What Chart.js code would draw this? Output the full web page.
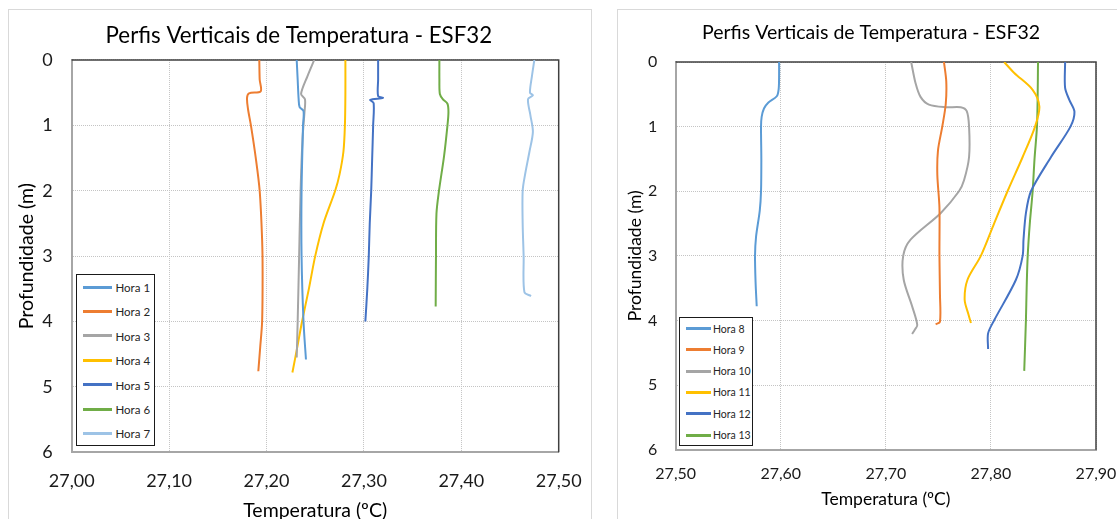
<!DOCTYPE html>
<html>
<head>
<meta charset="utf-8">
<script src="https://cdn.jsdelivr.net/npm/chart.js@4"></script>
<style>
  body { margin: 0; background: #fff; width: 1117px; height: 519px; overflow: hidden; position: relative; font-family: Lato, sans-serif; }
  .frame { position: absolute; border: 1px solid #d9d9d9; background: #fff; }
  .holder { position: absolute; }
  .legend { position: absolute; border: 1px solid #1a1a1a; background: #fff; }
  .legend .item { position: absolute; left: 0; right: 0; height: 0; }
  .legend .swatch { position: absolute; height: 3px; margin-top: -1.5px; }
  .legend .label { position: absolute; color: #262626; white-space: nowrap; transform: translateY(-50%); }
</style>
</head>
<body>
<div class="frame" style="left:8px;top:9px;width:582px;height:530px"></div>
<div class="frame" style="left:617px;top:9px;width:520px;height:530px"></div>
<div class="holder" style="left:9px;top:10px;width:580px;height:520px"><canvas id="left"></canvas></div>
<div class="holder" style="left:618px;top:10px;width:499px;height:520px"><canvas id="right"></canvas></div>
<div class="legend" id="legLeft" style="left:76px;top:274px;width:77px;height:170px"></div>
<div class="legend" id="legRight" style="left:679px;top:317px;width:72px;height:127px"></div>
<script>
// profundidade (m) e temperatura (ºC) de cada hora
const h1T = [27.231, 27.232, 27.233, 27.234, 27.238, 27.2375, 27.236, 27.236, 27.238, 27.2405];
const h1D = [0, 0.3, 0.6, 0.72, 0.78, 1.0, 2.0, 3.0, 4.0, 4.58];
const h2T = [27.1926, 27.193, 27.194, 27.182, 27.180, 27.181, 27.184, 27.189, 27.193, 27.1955, 27.196, 27.1955, 27.1935, 27.1916];
const h2D = [0, 0.3, 0.48, 0.51, 0.58, 0.75, 1.0, 1.5, 2.0, 2.75, 3.25, 4.0, 4.4, 4.76];
const h3T = [27.249, 27.242, 27.2355, 27.2395, 27.239, 27.237, 27.235, 27.2335, 27.232, 27.231];
const h3D = [0, 0.25, 0.52, 0.6, 0.8, 1.2, 2.0, 3.0, 4.0, 4.55];
const h4T = [27.281, 27.281, 27.2805, 27.279, 27.275, 27.2705, 27.2585, 27.25, 27.2435, 27.2365, 27.2315, 27.2266];
const h4D = [0, 0.5, 1.0, 1.4, 1.75, 2.0, 2.5, 3.0, 3.5, 4.0, 4.4, 4.78];
const h5T = [27.3146, 27.3146, 27.3146, 27.3195, 27.3065, 27.310, 27.3095, 27.3085, 27.3075, 27.306, 27.305, 27.3035, 27.3015];
const h5D = [0, 0.3, 0.55, 0.58, 0.61, 0.66, 1.0, 1.5, 2.0, 2.5, 3.0, 3.5, 4.0];
const h6T = [27.3775, 27.3775, 27.378, 27.381, 27.3858, 27.3868, 27.3858, 27.3823, 27.3771, 27.3745, 27.374, 27.3737];
const h6D = [0, 0.3, 0.52, 0.6, 0.67, 0.8, 1.0, 1.47, 2.0, 2.35, 3.0, 3.77];
const h7T = [27.475, 27.4725, 27.4705, 27.4735, 27.4685, 27.471, 27.4735, 27.470, 27.4655, 27.463, 27.463, 27.464, 27.4648, 27.4716];
const h7D = [0, 0.25, 0.5, 0.54, 0.6, 0.85, 1.1, 1.4, 1.75, 2.0, 2.5, 3.0, 3.55, 3.61];

const h8T = [27.5984, 27.5984, 27.598, 27.5962, 27.588, 27.584, 27.5818, 27.5812, 27.5815, 27.5812, 27.580, 27.5765, 27.5755, 27.576, 27.5771];
const h8D = [0, 0.2, 0.42, 0.53, 0.63, 0.72, 0.85, 1.0, 1.5, 2.0, 2.3, 2.7, 3.0, 3.4, 3.78];
const h9T = [27.7553, 27.7575, 27.757, 27.7537, 27.7496, 27.749, 27.751, 27.751, 27.7515, 27.7515, 27.7474];
const h9D = [0, 0.3, 0.65, 1.0, 1.37, 1.75, 2.25, 3.0, 3.6, 4.02, 4.06];
const h10T = [27.7241, 27.7283, 27.733, 27.741, 27.757, 27.7713, 27.777, 27.7792, 27.7792, 27.7744, 27.7696, 27.7521, 27.7235, 27.7165, 27.717, 27.725, 27.7299, 27.7273, 27.725];
const h10D = [0, 0.33, 0.54, 0.66, 0.7, 0.7, 0.76, 1.0, 1.47, 1.83, 2.0, 2.34, 2.75, 3.0, 3.37, 3.78, 4.07, 4.15, 4.21];
const h11T = [27.8126, 27.8222, 27.8397, 27.8461, 27.842, 27.8302, 27.8158, 27.803, 27.7904, 27.7777, 27.775, 27.7785, 27.781];
const h11D = [0, 0.17, 0.43, 0.69, 1.0, 1.47, 2.0, 2.5, 3.0, 3.37, 3.68, 3.9, 4.04];
const h12T = [27.8706, 27.8706, 27.8747, 27.8795, 27.8757, 27.8572, 27.8381, 27.8333, 27.831, 27.8302, 27.8238, 27.803, 27.7973, 27.7973];
const h12D = [0, 0.4, 0.59, 0.77, 1.0, 1.47, 2.0, 2.34, 2.75, 3.0, 3.37, 4.0, 4.2, 4.44];
const h13T = [27.8448, 27.8445, 27.8438, 27.8415, 27.8397, 27.837, 27.835, 27.834, 27.8333, 27.8317];
const h13D = [0, 0.5, 1.0, 1.5, 2.0, 2.5, 3.0, 3.5, 4.0, 4.78];

const leftLabels = ["Hora 1", "Hora 2", "Hora 3", "Hora 4", "Hora 5", "Hora 6", "Hora 7"];
const rightLabels = ["Hora 8", "Hora 9", "Hora 10", "Hora 11", "Hora 12", "Hora 13"];
const leftColors = ["#5b9bd5", "#ed7d31", "#a5a5a5", "#ffc000", "#4472c4", "#70ad47", "#9dc3e6"];
const rightColors = ["#5b9bd5", "#ed7d31", "#a5a5a5", "#ffc000", "#4472c4", "#70ad47"];
const depthTicks = [0, 1, 2, 3, 4, 5, 6];

const titleText = "Perfis Verticais de Temperatura - ESF32";

function pts(t, d) {
  return t.map((v, i) => ({ x: v, y: d[i] }));
}

// moldura da área do gráfico (topo e direita escuros)
const frameBox = {
  id: "frameBox",
  afterLayout(chart) {
    // título centrado sobre a área do gráfico, como no Excel
    const shift = chart.options.titleShift || 0;
    if (chart.titleBlock) chart.titleBlock.left += shift * 2;
  },
  beforeDatasetsDraw(chart) {
    const a = chart.chartArea, ctx = chart.ctx;
    ctx.save();
    ctx.strokeStyle = "#404040";
    ctx.lineWidth = 1.5;
    ctx.beginPath();
    ctx.moveTo(a.left, a.top);
    ctx.lineTo(a.right, a.top);
    ctx.lineTo(a.right, a.bottom);
    ctx.stroke();
    ctx.restore();
  }
};

function makeChart(id, series, labels, colors, o) {
  const ctx = document.getElementById(id).getContext("2d");
  return new Chart(ctx, {
    type: "scatter",
    data: {
      datasets: series.map((s, i) => ({
        label: labels[i],
        data: pts(s[0], s[1]),
        showLine: true,
        borderColor: colors[i],
        backgroundColor: colors[i],
        borderWidth: 2,
        pointRadius: 0,
        tension: 0.3
      }))
    },
    options: {
      responsive: true,
      maintainAspectRatio: false,
      animation: false,
      titleShift: o.titleShift,
      layout: { padding: { left: 0, right: o.padRight, top: 0, bottom: 0 } },
      plugins: {
        legend: { display: false },
        tooltip: { enabled: false },
        title: {
          display: true,
          text: titleText,
          color: "#000",
          font: { family: "Lato", size: o.titleSize, weight: "normal", lineHeight: 1.2 },
          padding: { top: o.titleTop, bottom: o.titleBottom }
        }
      },
      scales: {
        x: {
          type: "linear",
          min: o.xMin,
          max: o.xMax,
          afterFit(scale) {
            scale.height = o.xHeight;
            // a margem direita fica só com layout.padding
            scale.paddingLeft = 0;
            scale.paddingRight = 0;
          },
          ticks: {
            stepSize: 0.1,
            padding: o.xTickPad,
            color: "#1a1a1a",
            font: { family: "Lato", size: o.tickSize },
            callback: v => v.toFixed(2).replace(".", ",")
          },
          grid: { color: "#c4c4c4", drawTicks: false, lineWidth: 1 },
          border: { color: "#a6a6a6", width: 2, dash: [1, 1] },
          title: {
            display: true,
            text: "Temperatura (ºC)",
            color: "#000",
            font: { family: "Lato", size: o.axisTitleSize, lineHeight: 1.2 },
            padding: { bottom: o.xTitleBottom, top: 0 }
          }
        },
        y: {
          type: "linear",
          reverse: true,
          min: 0,
          max: 6,
          afterFit(scale) { scale.width = o.yWidth; },
          afterBuildTicks(scale) { scale.ticks = depthTicks.map(v => ({ value: v })); },
          ticks: {
            padding: o.yTickPad,
            color: "#1a1a1a",
            font: { family: "Lato", size: o.tickSize }
          },
          grid: { color: "#c4c4c4", drawTicks: false, lineWidth: 1 },
          border: { color: "#a6a6a6", width: 2, dash: [1, 1] },
          title: {
            display: true,
            text: "Profundidade (m)",
            color: "#000",
            font: { family: "Lato", size: o.axisTitleSize, lineHeight: 1.2 },
            padding: { top: o.yTitleTop, bottom: 0 }
          }
        }
      }
    },
    plugins: [frameBox]
  });
}

const leftChart = makeChart("left",
  [[h1T, h1D], [h2T, h2D], [h3T, h3D], [h4T, h4D], [h5T, h5D], [h6T, h6D], [h7T, h7D]],
  leftLabels, leftColors,
  { xMin: 27.0, xMax: 27.5, padRight: 30.3, titleSize: 22.3, titleTop: 12.5, titleBottom: 10.7,
    titleShift: 15, xHeight: 77.7, yWidth: 62.7, tickSize: 18, axisTitleSize: 19.5,
    xTickPad: 18, yTickPad: 19, xTitleBottom: 8, yTitleTop: 6 });

const rightChart = makeChart("right",
  [[h8T, h8D], [h9T, h9D], [h10T, h10D], [h11T, h11D], [h12T, h12D], [h13T, h13D]],
  rightLabels, rightColors,
  { xMin: 27.5, xMax: 27.9, padRight: 21, titleSize: 19.5, titleTop: 11, titleBottom: 17.6,
    titleShift: 14, xHeight: 80.3, yWidth: 57.7, tickSize: 16, axisTitleSize: 17.5,
    xTickPad: 15, yTickPad: 18.4, xTitleBottom: 20, yTitleTop: 6.5 });

// legenda em HTML, montada a partir dos datasets
function buildLegend(el, chart, first, step, lineLeft, lineW, textLeft, size) {
  chart.data.datasets.forEach((ds, i) => {
    const it = document.createElement("div");
    it.className = "item";
    it.style.top = (first + step * i) + "px";
    const sw = document.createElement("div");
    sw.className = "swatch";
    sw.style.left = lineLeft + "px";
    sw.style.width = lineW + "px";
    sw.style.background = ds.borderColor;
    const tx = document.createElement("div");
    tx.className = "label";
    tx.style.left = textLeft + "px";
    tx.style.fontSize = size + "px";
    tx.textContent = ds.label;
    it.appendChild(sw);
    it.appendChild(tx);
    el.appendChild(it);
  });
}
buildLegend(document.getElementById("legLeft"), leftChart, 12, 24.4, 6, 29, 38.5, 11.5);
buildLegend(document.getElementById("legRight"), rightChart, 10.5, 21.3, 5.5, 25, 33, 10.5);
</script>
</body>
</html>
